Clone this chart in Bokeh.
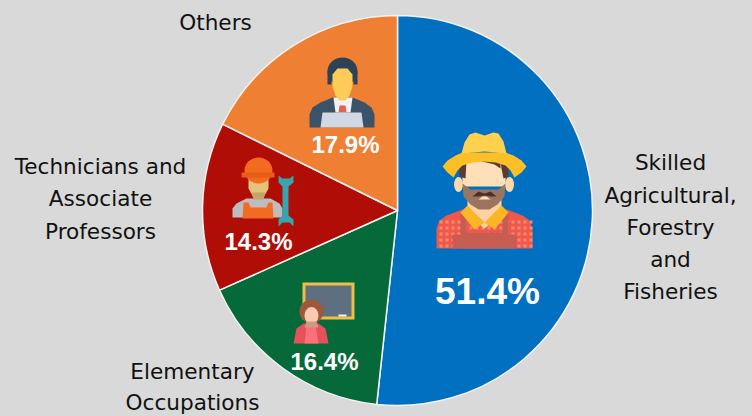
from bokeh.plotting import figure
from bokeh.embed import file_html
from bokeh.resources import INLINE
from bokeh.models import Range1d, GlobalInlineStyleSheet
from bokeh.core.properties import value
import math

categories = ["Skilled Agricultural, Forestry and Fisheries", "Elementary Occupations",
              "Technicians and Associate Professors", "Others"]
shares = [51.7, 16.6, 14.0, 17.7]
colors = ["#0170c1", "#05693a", "#b00d07", "#ef7f33"]
pct_labels = ["51.4%", "16.4%", "14.3%", "17.9%"]

W, H = 752, 416
CX, CY, R = 397, 210, 195

p = figure(width=W, height=H, x_range=Range1d(0, W), y_range=Range1d(0, H),
           output_backend="svg", toolbar_location=None, min_border=0,
           background_fill_color="#d9d9d9", border_fill_color="#d9d9d9", outline_line_color=None)
p.axis.visible = False
p.grid.visible = False
p.stylesheets = [GlobalInlineStyleSheet(css="html,body{margin:0;padding:0;background:#d9d9d9;overflow:hidden}")]

def Y(y):
    return H - y

# pie: clockwise from 12 o'clock
total = sum(shares)
a = math.pi / 2
for s, c in zip(shares, colors):
    b = a - s / total * 2 * math.pi
    p.wedge(x=[CX], y=[Y(CY)], radius=R, start_angle=b, end_angle=a, fill_color=c,
            line_color="#f2f2f2", line_width=1.5)
    a = b

# icon helpers, in image pixel coordinates
def poly(pts, c):
    p.patch([q[0] for q in pts], [Y(q[1]) for q in pts], fill_color=c, line_color=None)

def ell(x, y, w, h, c):
    p.ellipse(x=[x], y=[Y(y)], width=w, height=h, fill_color=c, line_color=None)

def box(l, t, r, b, c):
    p.quad(left=[l], right=[r], top=[Y(t)], bottom=[Y(b)], fill_color=c, line_color=None)

# farmer
ell(458, 184, 9, 15, "#fcd9a8"); ell(509, 184, 9, 15, "#fcd9a8")
poly([(436, 248), (436, 228), (439, 220), (446, 215), (462, 209), (506, 209), (522, 215), (529, 220), (532, 228), (532, 248)], "#f0584a")
for xx in range(439, 530, 6):
    for yy in range(220, 248, 6):
        box(xx, yy, xx + 3, yy + 3, "#f98a74")
poly([(460, 248), (460, 214), (466, 214), (466, 232), (502, 232), (502, 214), (508, 214), (508, 248)], "#c65c52")
box(452, 234, 516, 248, "#c65c52")
poly([(467, 195), (501, 195), (501, 214), (484, 228), (467, 214)], "#fdd3a3")
poly([(467, 205), (484, 222), (474, 229), (460, 212)], "#fbb625")
poly([(501, 205), (484, 222), (494, 229), (508, 212)], "#fbb625")
poly([(462, 160), (505, 160), (505, 186), (462, 186)], "#fde0b8")
poly([(462, 183), (470, 189), (498, 189), (505, 183), (504, 196), (497, 204), (489, 209), (478, 209), (470, 204), (463, 196)], "#9c7561")
poly([(472, 196), (478, 191), (484, 193), (490, 191), (496, 196), (490, 196), (484, 195), (478, 196)], "#4a2f28")
poly([(482, 196), (486, 196), (490, 199), (478, 199)], "#fde0b8")
poly([(458, 160), (466, 160), (465, 178), (459, 176)], "#5a3a33")
poly([(500, 160), (508, 160), (508, 176), (503, 178), (501, 168)], "#5a3a33")
poly([(478, 160), (500, 160), (500, 168), (494, 164)], "#5a3a33")
poly([(442, 166), (447, 160), (455, 155), (462, 152), (505, 152), (513, 155), (521, 160), (526, 166),
      (521, 172), (514, 177), (510, 170), (505, 165), (495, 162), (483, 161), (472, 162), (462, 165), (457, 170), (453, 177), (447, 172)], "#fcbf26")
poly([(461, 153), (464, 142), (469, 134), (475, 132), (484, 135), (493, 132), (498, 133), (503, 141), (506, 153), (484, 151)], "#fdd04d")

# office worker
poly([(309, 127), (309, 114), (312, 107), (320, 102), (332, 97), (352, 97), (364, 102), (371, 107), (374, 114), (374, 127)], "#3b5369")
poly([(333, 97), (352, 97), (350, 112), (335, 112)], "#f2f2f2")
poly([(339, 105), (345, 105), (346, 112), (338, 112)], "#e8604c")
poly([(320, 127), (322, 112), (361, 112), (363, 127)], "#cfd8e3")
ell(342, 71, 30, 28, "#2e4257")
box(327, 71, 331, 84, "#2e4257"); box(353, 71, 357, 84, "#2e4257")
poly([(332, 74), (337, 68), (347, 68), (352, 74), (352, 86), (349, 95), (345, 100), (339, 100), (335, 95), (332, 86)], "#fdcb58")

# technician
poly([(232, 217), (232, 208), (236, 203), (246, 198), (270, 198), (279, 203), (282, 208), (282, 217)], "#bdbdbd")
poly([(242, 218), (243, 202), (248, 202), (250, 207), (266, 207), (268, 202), (272, 202), (273, 218)], "#f36b21")
poly([(248, 176), (268, 176), (268, 188), (263, 197), (253, 197), (248, 188)], "#e6c27a")
poly([(251, 192), (265, 192), (263, 199), (253, 199)], "#c4a468")
ell(258, 170, 28, 26, "#f36b21")
box(241, 172, 274, 177, "#e85d18")
box(282, 182, 288, 218, "#36a5b0")
poly([(278, 175), (278, 182), (282, 186), (288, 186), (293, 182), (293, 175), (289, 178), (282, 178)], "#36a5b0")
poly([(278, 226), (278, 219), (282, 215), (288, 215), (293, 219), (293, 226), (289, 222), (282, 222)], "#36a5b0")

# teacher and board
box(302, 282, 354, 319, "#f2bd43")
box(305, 285, 351, 316, "#5e7080")
box(338, 314, 346, 316, "#f2f2f2")
poly([(293, 343), (296, 328), (303, 323), (318, 323), (325, 328), (328, 343)], "#e5505a")
poly([(304, 343), (306, 325), (315, 325), (318, 343)], "#fb7079")
ell(311, 311, 24, 24, "#9c5a3a")
ell(311, 315, 14, 17, "#fbc8b0")
poly([(306, 321), (316, 321), (318, 327), (304, 327)], "#cf9a80")

# percent labels
px = [487, 324, 258, 345]
py = [291, 361, 241, 144]
fs = ["37px", "24px", "24px", "24px"]
for t, x, y, f in zip(pct_labels, px, py, fs):
    p.text(x=[x], y=[Y(y)], text=[t], text_color="#ffffff", text_font=value("Liberation Sans"),
           text_font_style="bold", text_font_size=f, text_align="center", text_baseline="middle")

# category labels
lab_lines = [["Skilled", "Agricultural,", "Forestry", "and", "Fisheries"],
             ["Elementary", "Occupations"],
             ["Technicians and", "Associate", "Professors"],
             ["Others"]]
lab_x = [670, 192, 100, 215]
lab_y = [[162, 195, 227, 259, 291], [371, 402], [166, 198, 231], [22]]
for lines, x, ys in zip(lab_lines, lab_x, lab_y):
    for t, y in zip(lines, ys):
        p.text(x=[x], y=[Y(y)], text=[t], text_color="#111111", text_font=value("DejaVu Sans"),
               text_font_size="21.6px", text_align="center", text_baseline="middle")

open("out.html", "w").write(file_html(p, INLINE))
